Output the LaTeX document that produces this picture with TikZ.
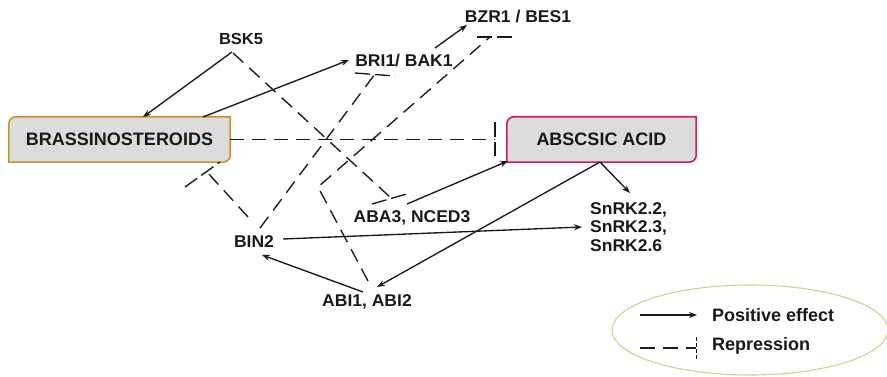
\documentclass[tikz,border=0pt]{standalone}
\usepackage{fontspec}
\setmainfont{Liberation Sans}
\newfontfamily\labelfont[FakeStretch=1.03]{Liberation Sans}
\usetikzlibrary{arrows.meta,shapes.geometric,backgrounds}

\definecolor{boxfill}{RGB}{220,220,220}
\definecolor{brgold}{RGB}{196,150,45}
\definecolor{abared}{RGB}{200,30,100}
\definecolor{legendline}{RGB}{215,205,145}
\definecolor{ink}{RGB}{25,25,25}

% outline of a hormone box: rounded top-left and bottom-right corners
\newcommand\hormonebox[2]{%
  \draw[line width=1.6pt, draw=#2, fill=boxfill]
    (#1.south west) -- ([yshift=-7pt]#1.north west)
    arc[start angle=180, end angle=270, radius=7]
    -- (#1.north east) -- ([yshift=7pt]#1.south east)
    arc[start angle=0, end angle=90, radius=7] -- cycle;}

\begin{document}
\begin{tikzpicture}[x=1pt, y=-1pt,
  txt/.style={inner sep=0pt, text=ink, font=\labelfont\bfseries\fontsize{17}{18.5}\selectfont},
  hormone/.style={inner sep=0pt, minimum width=#1, minimum height=45pt,
    text=ink, font=\fontsize{18}{21}\selectfont\bfseries},
  legtxt/.style={inner sep=0pt, anchor=west, text=ink,
    font=\fontsize{18}{20}\selectfont\bfseries},
  posarrow/.style={draw=ink, line width=1.35pt, -{Stealth[length=8pt,width=6pt]}},
  represses/.style={draw=ink, line width=1.35pt, dash pattern=on 14pt off 8pt},
  tbar/.style={draw=ink, line width=1.35pt, dash pattern=on 15pt off 5pt}]

\useasboundingbox (0,0) rectangle (887,377);

% hormones
\node[hormone=221pt] (br) at (119.5,139.5) {BRASSINOSTEROIDS};
\node[hormone=189pt] (aba) at (601.5,139.5) {ABSCSIC ACID};
\begin{scope}[on background layer]
  \hormonebox{br}{brgold}
  \hormonebox{aba}{abared}
\end{scope}

% signalling components
\node[txt, font=\labelfont\bfseries\fontsize{16}{18}\selectfont] (bsk) at (241,39) {BSK5};
\node[txt] (bri) at (404,61) {BRI1/ BAK1};
\node[txt] (bzr) at (518,17) {BZR1 / BES1};
\node[txt] (nced) at (412,218) {ABA3, NCED3};
\node[txt] (bin) at (254,242) {BIN2};
\node[txt] (abi) at (367,302) {ABI1, ABI2};
\node[txt, align=left, anchor=west] (snrk) at (590,227) {SnRK2.2,\\SnRK2.3,\\SnRK2.6};

% positive effects
\draw[posarrow] ([shift={(-9,13)}]bsk.center) -- ([shift={(23.5,-22.5)}]br.center);
\draw[posarrow] ([shift={(83.5,-22.5)}]br.center) -- ([shift={(-55,-1)}]bri.center);
\draw[posarrow] ([shift={(31,-13)}]bri.center) -- ([shift={(-51,8)}]bzr.center);
\draw[posarrow] ([shift={(-5,-14)}]nced.center) -- ([shift={(-93.5,21.5)}]aba.center);
\draw[posarrow] ([shift={(-1.5,22.5)}]aba.center) -- ([shift={(40,-34)}]snrk.west);
\draw[posarrow] ([shift={(-1.5,22.5)}]aba.center) -- ([shift={(10,-15)}]abi.center);
\draw[posarrow] ([shift={(29,-3)}]bin.center) -- ([shift={(-8,0)}]snrk.west);
\draw[posarrow] ([shift={(-4,-10)}]abi.center) -- ([shift={(8,13)}]bin.center);

% repressions
\draw[represses] ([shift={(-8,14)}]bsk.center) -- ([shift={(-21,-20)}]nced.center);
\draw[tbar] ([shift={(-40,-14)}]nced.center) -- ([shift={(-2,-25)}]nced.center);

\draw[represses] ([shift={(6,-14)}]bin.center) -- ([shift={(-29,13)}]bri.center);
\draw[tbar] ([shift={(-49,12)}]bri.center) -- ([shift={(-9,15)}]bri.center);

\draw[represses] ([shift={(1,-21)}]abi.center) -- ([shift={(-49,-115)}]abi.center)
  -- ([shift={(-28,20)}]bzr.center);
\draw[tbar] ([shift={(-41,20)}]bzr.center) -- ([shift={(-3,20)}]bzr.center);

\draw[represses] (br.east) -- ([shift={(-106.5,0)}]aba.center);
\draw[tbar] ([shift={(-106.5,-17)}]aba.center) -- ([shift={(-106.5,17)}]aba.center);

\draw[represses] ([shift={(-6,-25)}]bin.center) -- ([shift={(87.5,32.5)}]br.center);
\draw[tbar] ([shift={(65.5,47.5)}]br.center) -- ([shift={(100.5,22.5)}]br.center);

% legend
\node[ellipse, draw=legendline, line width=1.1pt, minimum width=276pt,
  minimum height=90pt] (legend) at (750,330) {};
\node[legtxt] (lpos) at (712,315) {Positive effect};
\node[legtxt] (lrep) at (712,346) {Repression};
\coordinate (lposstart) at (640,315);
\coordinate (lrepstart) at (640,348);
\coordinate (lrepend) at (696,348);
\draw[posarrow] (lposstart) -- ([xshift=-15pt]lpos.west);
\draw[represses, dash pattern=on 15pt off 8pt] (lrepstart) -- (lrepend);
\draw[draw=ink, line width=1pt, dash pattern=on 4pt off 2pt]
  ([yshift=11pt]lrepend) -- ([yshift=-13pt]lrepend);

\end{tikzpicture}
\end{document}
